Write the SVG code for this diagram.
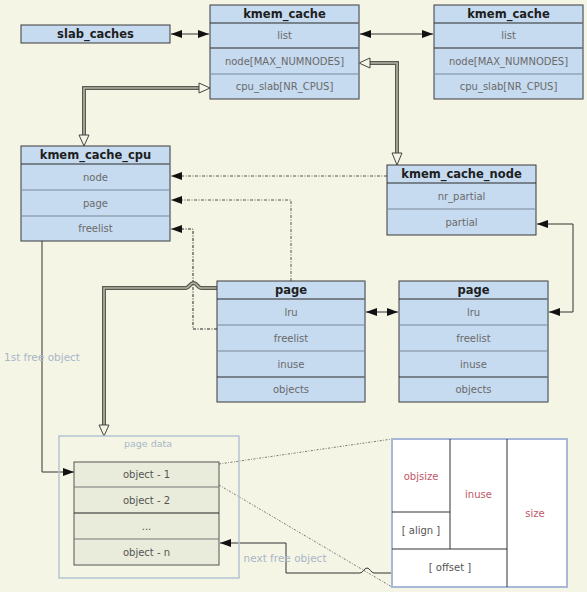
<svg xmlns="http://www.w3.org/2000/svg" width="587" height="592" viewBox="0 0 587 592">
<style>
.bg{fill:#f5f5e6}
.box{fill:#c6daf0;stroke:#3a3a3a;stroke-width:1}
.redge{stroke:#8090a0;stroke-width:1}
.sepd{stroke:#2a2a2a;stroke-width:1}
.sepg{stroke:#7a8898;stroke-width:1.2}
.hdr{font-family:"DejaVu Sans",sans-serif;font-weight:bold;font-size:11.5px;fill:#1e1e1e;text-anchor:middle;dominant-baseline:central}
.fld{font-family:"DejaVu Sans",sans-serif;font-size:10px;fill:#6a6a6a;text-anchor:middle;dominant-baseline:central}
.obj{fill:#e9ecda;stroke:#555;stroke-width:1}
.objt{font-family:"DejaVu Sans",sans-serif;font-size:10px;fill:#555;text-anchor:middle;dominant-baseline:central}
.lbl{font-family:"DejaVu Sans",sans-serif;font-size:10.5px;fill:#a8b6c6;text-anchor:middle;dominant-baseline:central}
.red{font-family:"DejaVu Sans",sans-serif;font-size:10px;fill:#c05868;text-anchor:middle;dominant-baseline:central}
.gry{font-family:"DejaVu Sans",sans-serif;font-size:10px;fill:#555;text-anchor:middle;dominant-baseline:central}
.ln{fill:none;stroke:#333;stroke-width:1}
.dd{fill:none;stroke:#555;stroke-width:1;stroke-dasharray:3,1.5,1,1.5}
.ddk{fill:none;stroke:#222;stroke-width:1;stroke-dasharray:3,1.5,1,1.5}
.dbo{fill:none;stroke:#5a5a50;stroke-width:4}
.dbi{fill:none;stroke:#b4b4a4;stroke-width:1.6}
.tri{fill:#f5f5e6;stroke:#444;stroke-width:1}
.dot{fill:none;stroke:#555;stroke-width:0.8;stroke-dasharray:2,1.5,0.8,1.5}
</style>
<defs>
<marker id="ah" markerUnits="userSpaceOnUse" markerWidth="12" markerHeight="10" refX="11" refY="4.5" orient="auto-start-reverse">
<path d="M0,0.5 L11,4.5 L0,8.5 Z" fill="#111"/>
</marker>
</defs>
<rect class="bg" x="0" y="0" width="587" height="592"/>

<g id="connectors">
<line class="ln" x1="171" y1="34" x2="209" y2="34" marker-start="url(#ah)" marker-end="url(#ah)"/>
<line class="ln" x1="360" y1="34" x2="433" y2="34" marker-start="url(#ah)" marker-end="url(#ah)"/>
<path class="dbo" d="M199,88 H84 V135"/>
<path class="dbi" d="M199,88 H84 V135"/>
<polygon class="tri" points="210,88 199,83 199,93"/>
<polygon class="tri" points="84,146 79,135 89,135"/>
<path class="dbo" d="M370,63 H397 V153"/>
<path class="dbi" d="M370,63 H397 V153"/>
<polygon class="tri" points="359,63 370,58 370,68"/>
<polygon class="tri" points="397,165 392,153 402,153"/>
<path class="dd" d="M387,176 H171" marker-end="url(#ah)"/>
<path class="dd" d="M291,281 V200 H171" marker-end="url(#ah)"/>
<path class="ddk" d="M217,329 H193 V229 H171" marker-end="url(#ah)"/>
<path class="dbo" d="M217,288 H201 C198,288 197,283 193.5,283 C190,283 189,288 186,288 H104 V425"/>
<path class="dbi" d="M217,288 H201 C198,288 197,283 193.5,283 C190,283 189,288 186,288 H104 V425"/>
<polygon class="tri" points="104,436 99,425 109,425"/>
<line class="ln" x1="366" y1="312" x2="398" y2="312" marker-start="url(#ah)" marker-end="url(#ah)"/>
<path class="ln" d="M537,224 H573 V312 H549" marker-start="url(#ah)" marker-end="url(#ah)"/>
<path class="ln" d="M42,241 V472 H74" marker-end="url(#ah)" stroke="#555"/>
<line class="dot" x1="219" y1="464" x2="392" y2="439"/>
<line class="dot" x1="219" y1="485" x2="392" y2="587"/>
<path class="ln" d="M392,573 H374 C371,573 370,568 367,568 C364,568 363,573 360,573 H286 V543 H220" marker-end="url(#ah)"/>
<text class="lbl" x="42" y="357">1st free object</text>
<text class="lbl" x="285" y="558">next free object</text>
</g>

<g id="slab_caches">
<rect class="box" x="21" y="25" width="149" height="18"/>
<text class="hdr" x="95.5" y="34">slab_caches</text>
</g>

<g id="kmem_cache_1">
<rect class="box" x="210" y="5" width="149" height="94"/>
<line class="sepd" x1="210" y1="23" x2="359" y2="23"/>
<line class="sepd" x1="210" y1="48" x2="359" y2="48"/>
<line class="sepg" x1="210" y1="74" x2="359" y2="74"/>
<line class="redge" x1="359" y1="5" x2="359" y2="99"/>
<text class="hdr" x="284.5" y="14">kmem_cache</text>
<text class="fld" x="284.5" y="35.5">list</text>
<text class="fld" x="284.5" y="61">node[MAX_NUMNODES]</text>
<text class="fld" x="284.5" y="86.5">cpu_slab[NR_CPUS]</text>
</g>

<g id="kmem_cache_2">
<rect class="box" x="434" y="5" width="149" height="94"/>
<line class="sepd" x1="434" y1="23" x2="583" y2="23"/>
<line class="sepd" x1="434" y1="48" x2="583" y2="48"/>
<line class="sepg" x1="434" y1="74" x2="583" y2="74"/>
<line class="redge" x1="583" y1="5" x2="583" y2="99"/>
<text class="hdr" x="508.5" y="14">kmem_cache</text>
<text class="fld" x="508.5" y="35.5">list</text>
<text class="fld" x="508.5" y="61">node[MAX_NUMNODES]</text>
<text class="fld" x="508.5" y="86.5">cpu_slab[NR_CPUS]</text>
</g>

<g id="kmem_cache_cpu">
<rect class="box" x="21" y="146" width="149" height="95"/>
<line class="sepd" x1="21" y1="164" x2="170" y2="164"/>
<line class="sepg" x1="21" y1="190" x2="170" y2="190"/>
<line class="sepg" x1="21" y1="216" x2="170" y2="216"/>
<line class="redge" x1="170" y1="146" x2="170" y2="241"/>
<text class="hdr" x="95.5" y="155">kmem_cache_cpu</text>
<text class="fld" x="95.5" y="177">node</text>
<text class="fld" x="95.5" y="203">page</text>
<text class="fld" x="95.5" y="228.5">freelist</text>
</g>

<g id="kmem_cache_node">
<rect class="box" x="387" y="165" width="149" height="70"/>
<line class="sepd" x1="387" y1="183" x2="536" y2="183"/>
<line class="sepg" x1="387" y1="209" x2="536" y2="209"/>
<text class="hdr" x="461.5" y="174">kmem_cache_node</text>
<text class="fld" x="461.5" y="196">nr_partial</text>
<text class="fld" x="461.5" y="222">partial</text>
</g>

<g id="page_1">
<rect class="box" x="217" y="281" width="148" height="121"/>
<line class="sepd" x1="217" y1="299" x2="365" y2="299"/>
<line class="sepg" x1="217" y1="325" x2="365" y2="325"/>
<line class="sepg" x1="217" y1="351" x2="365" y2="351"/>
<line class="sepd" x1="217" y1="377" x2="365" y2="377"/>
<line class="redge" x1="365" y1="281" x2="365" y2="402"/>
<text class="hdr" x="291" y="290">page</text>
<text class="fld" x="291" y="312">lru</text>
<text class="fld" x="291" y="338">freelist</text>
<text class="fld" x="291" y="364">inuse</text>
<text class="fld" x="291" y="389.5">objects</text>
</g>

<g id="page_2">
<rect class="box" x="399" y="281" width="149" height="121"/>
<line class="sepd" x1="399" y1="299" x2="548" y2="299"/>
<line class="sepg" x1="399" y1="325" x2="548" y2="325"/>
<line class="sepg" x1="399" y1="351" x2="548" y2="351"/>
<line class="sepd" x1="399" y1="377" x2="548" y2="377"/>
<line class="redge" x1="548" y1="281" x2="548" y2="402"/>
<text class="hdr" x="473.5" y="290">page</text>
<text class="fld" x="473.5" y="312">lru</text>
<text class="fld" x="473.5" y="338">freelist</text>
<text class="fld" x="473.5" y="364">inuse</text>
<text class="fld" x="473.5" y="389.5">objects</text>
</g>

<g id="page_data">
<rect x="59" y="436" width="180" height="142" fill="none" stroke="#b4c2d2" stroke-width="1.5"/>
<text class="lbl" x="148" y="443" style="font-size:9.5px">page data</text>
<rect class="obj" x="74" y="462" width="145" height="103"/>
<line x1="74" y1="487" x2="219" y2="487" stroke="#777" stroke-width="1"/>
<line x1="74" y1="513" x2="219" y2="513" stroke="#222" stroke-width="1"/>
<line x1="74" y1="539" x2="219" y2="539" stroke="#777" stroke-width="1"/>
<text class="objt" x="146.5" y="474.5">object - 1</text>
<text class="objt" x="146.5" y="500">object - 2</text>
<text class="objt" x="146.5" y="526">...</text>
<text class="objt" x="146.5" y="552">object - n</text>
</g>

<g id="object_layout">
<rect x="392" y="439" width="175" height="148" fill="#ffffff" stroke="#a8b8d8" stroke-width="2"/>
<line x1="450" y1="439" x2="450" y2="549" stroke="#333" stroke-width="1"/>
<line x1="507" y1="439" x2="507" y2="587" stroke="#333" stroke-width="1"/>
<line x1="392" y1="512" x2="450" y2="512" stroke="#333" stroke-width="1"/>
<line x1="392" y1="549" x2="507" y2="549" stroke="#333" stroke-width="1"/>
<text class="red" x="421" y="476">objsize</text>
<text class="red" x="478.5" y="494">inuse</text>
<text class="red" x="535" y="513">size</text>
<text class="gry" x="421" y="530">[ align ]</text>
<text class="gry" x="450" y="567">[ offset ]</text>
</g>
</svg>
